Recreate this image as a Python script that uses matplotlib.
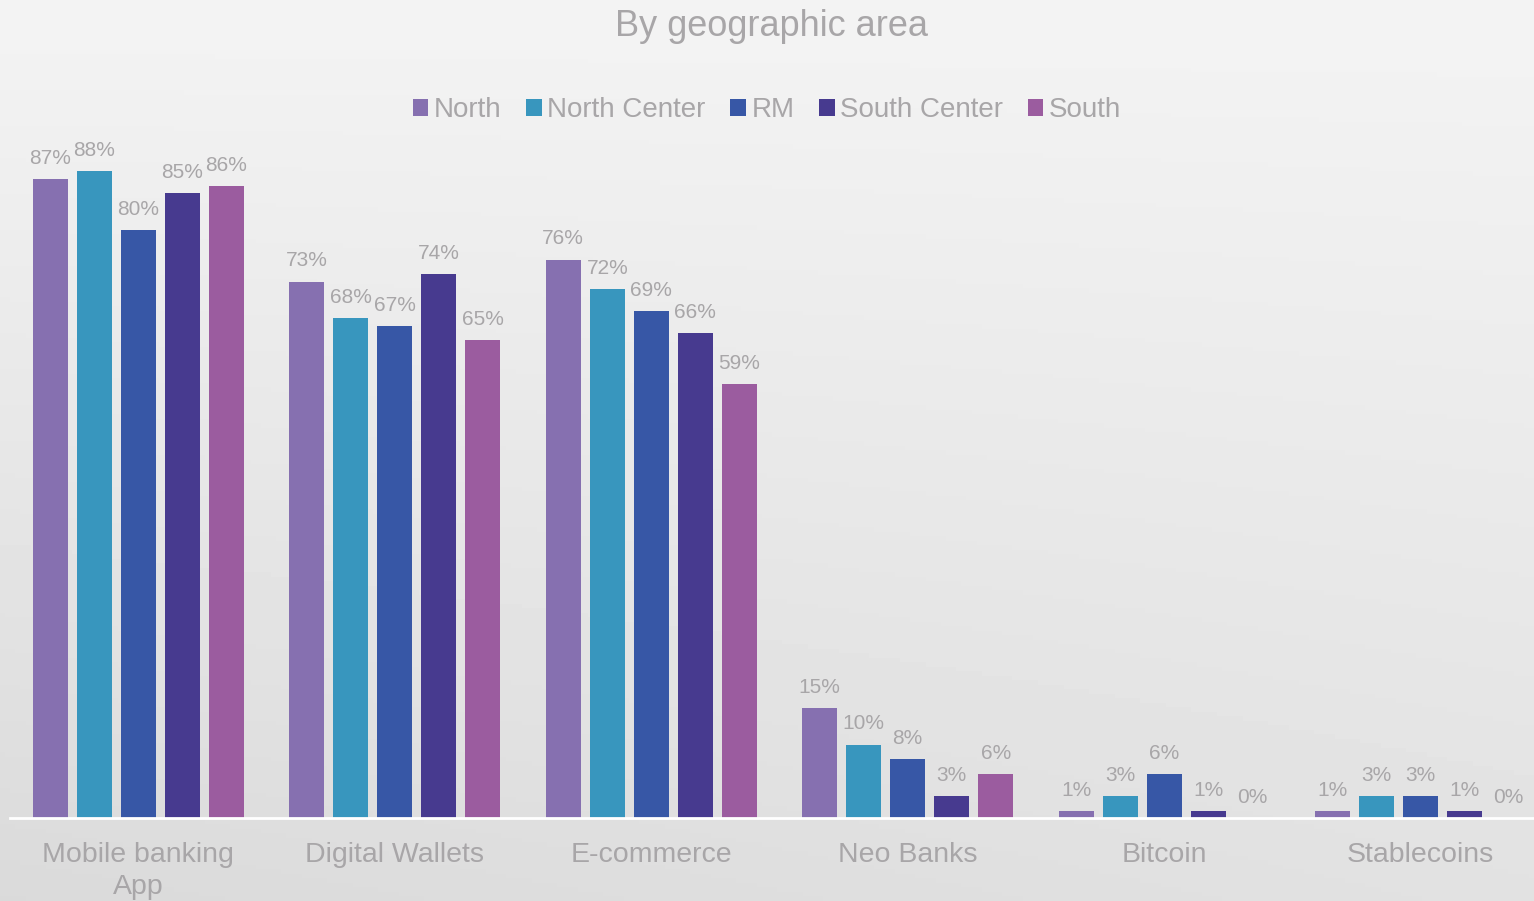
import numpy as np
import matplotlib.pyplot as plt

plt.rcParams['font.family'] = ['Liberation Sans', 'DejaVu Sans']

categories = ["Mobile banking\nApp", "Digital Wallets", "E-commerce", "Neo Banks", "Bitcoin", "Stablecoins"]
regions = ["North", "North Center", "RM", "South Center", "South"]
north = [87, 73, 76, 15, 1, 1]
north_center = [88, 68, 72, 10, 3, 3]
rm = [80, 67, 69, 8, 6, 3]
south_center = [85, 74, 66, 3, 1, 1]
south = [86, 65, 59, 6, 0, 0]
series = [north, north_center, rm, south_center, south]
colors = ["#8670b0", "#3896be", "#3757a6", "#473a8f", "#9b5c9f"]
text_gray = "#a8a6a8"

fig = plt.figure(figsize=(15.34, 9.01), dpi=100)

# soft grey background
bg = fig.add_axes([0, 0, 1, 1], zorder=-10)
yy, xx = np.mgrid[0:1:200j, 0:1:300j]
shade = 0.955 - 0.07 * yy - 0.03 * (1 - xx) * yy
bg.imshow(shade, cmap="gray", vmin=0, vmax=1, aspect="auto", extent=[0, 1, 0, 1])
bg.axis("off")

ax = fig.add_axes([10 / 1534, 1 - 818 / 901, 1 - 10 / 1534, (818 - 142) / 901])
ax.patch.set_alpha(0)

x = np.arange(len(categories))
pitch = 44 / 256.6
width = 35 / 256.6
for i, (name, vals, c) in enumerate(zip(regions, series, colors)):
    pos = x + (i - 2) * pitch
    bars = ax.bar(pos, vals, width, color=c, label=name, zorder=2)
    for b, v in zip(bars, vals):
        ax.annotate(f"{v}%", (b.get_x() + b.get_width() / 2, v), xytext=(0, 8),
                    textcoords="offset points", ha="center", va="bottom",
                    fontsize=15, color=text_gray)

ax.set_xlim(-0.5, 5.5 - 15 / 256.6)
ax.set_ylim(0, 92)
ax.set_xticks(x)
ax.set_xticklabels(categories, fontsize=20.5, color=text_gray, linespacing=1.3)
ax.tick_params(axis="x", length=0, pad=17.5)
ax.set_yticks([])
for s in ["top", "right", "left"]:
    ax.spines[s].set_visible(False)
ax.spines["bottom"].set_color("white")
ax.spines["bottom"].set_linewidth(2)

fig.text(0.503, 1 - 27 / 901, "By geographic area", ha="center", va="center",
         fontsize=26, color=text_gray)
fig.legend(loc="center", bbox_to_anchor=(0.5, 1 - 110 / 901), ncol=5, frameon=False,
           fontsize=20, labelcolor=text_gray, handlelength=0.55, handleheight=0.55,
           handletextpad=0.2, columnspacing=0.9)

fig.savefig("out.png", dpi=100)
